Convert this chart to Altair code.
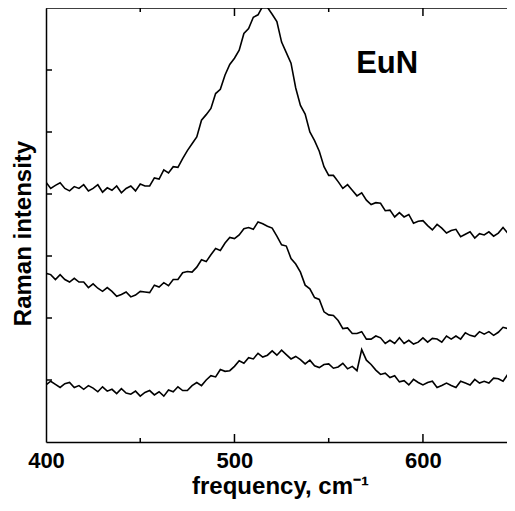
import altair as alt
import pandas as pd

# frequency grid (cm^-1), 2.5 cm^-1 spacing
freq = [400 + 2.5 * i for i in range(101)]

top_curve = [4.19, 4.09, 4.14, 4.18, 4.09, 4.05, 4.12, 4.09, 4.15, 4.05,
             4.09, 4.15, 4.03, 4.10, 4.06, 4.13, 4.02, 4.09, 4.13, 4.05,
             4.16, 4.13, 4.13, 4.26, 4.24, 4.39, 4.34, 4.44, 4.43, 4.57,
             4.70, 4.81, 4.92, 5.19, 5.28, 5.38, 5.62, 5.69, 5.92, 6.09,
             6.19, 6.32, 6.59, 6.67, 6.85, 6.89, 7.03, 7.01, 6.90, 6.78,
             6.45, 6.28, 6.11, 5.71, 5.43, 5.29, 5.00, 4.86, 4.69, 4.44,
             4.30, 4.30, 4.20, 4.09, 4.15, 4.06, 3.97, 4.02, 3.90, 3.83,
             3.86, 3.85, 3.73, 3.74, 3.63, 3.70, 3.63, 3.67, 3.53, 3.56,
             3.57, 3.49, 3.42, 3.51, 3.45, 3.37, 3.41, 3.43, 3.31, 3.35,
             3.39, 3.29, 3.36, 3.34, 3.39, 3.32, 3.37, 3.46, 3.37, 3.45, 3.48]

mid_curve = [2.72, 2.70, 2.62, 2.70, 2.62, 2.58, 2.64, 2.58, 2.58, 2.49,
             2.55, 2.48, 2.43, 2.49, 2.43, 2.35, 2.38, 2.42, 2.34, 2.37,
             2.43, 2.42, 2.41, 2.53, 2.50, 2.57, 2.52, 2.62, 2.62, 2.73,
             2.75, 2.74, 2.82, 2.94, 2.91, 3.02, 3.12, 3.09, 3.21, 3.30,
             3.28, 3.34, 3.44, 3.46, 3.43, 3.55, 3.52, 3.48, 3.45, 3.32,
             3.18, 3.16, 2.96, 2.87, 2.74, 2.53, 2.47, 2.33, 2.30, 2.10,
             2.05, 2.04, 1.96, 1.83, 1.84, 1.75, 1.75, 1.78, 1.66, 1.66,
             1.71, 1.68, 1.59, 1.64, 1.59, 1.68, 1.59, 1.64, 1.58, 1.61,
             1.68, 1.61, 1.67, 1.66, 1.61, 1.71, 1.66, 1.71, 1.66, 1.76,
             1.72, 1.70, 1.78, 1.74, 1.78, 1.72, 1.77, 1.85, 1.83, 1.79, 1.88]

low_curve = [0.92, 0.98, 0.93, 0.88, 0.94, 0.96, 0.88, 0.91, 0.85, 0.91,
             0.87, 0.81, 0.89, 0.82, 0.85, 0.78, 0.86, 0.79, 0.77, 0.82,
             0.74, 0.80, 0.83, 0.76, 0.81, 0.74, 0.84, 0.81, 0.89, 0.83,
             0.83, 0.91, 0.96, 0.91, 1.00, 1.07, 1.05, 1.17, 1.14, 1.15,
             1.22, 1.31, 1.27, 1.36, 1.34, 1.43, 1.37, 1.40, 1.47, 1.40,
             1.48, 1.41, 1.34, 1.38, 1.33, 1.26, 1.32, 1.23, 1.20, 1.25,
             1.26, 1.19, 1.21, 1.27, 1.18, 1.22, 1.15, 1.49, 1.32, 1.25,
             1.16, 1.09, 1.11, 1.04, 1.07, 0.97, 0.99, 0.92, 1.01, 0.96,
             0.92, 0.96, 0.98, 0.88, 0.91, 0.95, 0.91, 0.88, 0.98, 0.95,
             0.92, 1.01, 0.95, 0.98, 0.95, 1.03, 1.02, 0.98, 1.09, 1.06, 1.08]

x_major = [500, 600]
x_minor = [450, 550]
y_ticks = [1, 2, 3, 4, 5, 6]
x_max_visible = 644.6   # the right edge of the reference crop

W, H = 461, 434
FONT = "Liberation Sans"

rows = []
for name, vals in [("top", top_curve), ("mid", mid_curve), ("low", low_curve)]:
    for f, v in zip(freq, vals):
        rows.append({"freq": f, "intensity": v, "series": name})
df = pd.DataFrame(rows)

xscale = alt.Scale(domain=[400, x_max_visible], nice=False, zero=False)
yscale = alt.Scale(domain=[0, 7], nice=False, zero=False)

lines = alt.Chart(df).mark_line(color="black", strokeWidth=1.6, clip=True).encode(
    x=alt.X("freq:Q", scale=xscale,
            axis=alt.Axis(values=[400, 500, 600], ticks=False, grid=False,
                          labelFlush=False,
                          labelFont=FONT, labelFontSize=22, labelFontWeight="bold",
                          labelColor="black", labelPadding=8,
                          title="frequency, cm⁻¹", titleFont=FONT, titleFontSize=24,
                          titleFontWeight="bold", titleColor="black", titlePadding=3,
                          titleX=234,
                          domainColor="black", domainWidth=1.5)),
    y=alt.Y("intensity:Q", scale=yscale,
            axis=alt.Axis(labels=False, ticks=False, grid=False,
                          title="Raman intensity", titleFont=FONT, titleFontSize=24,
                          titleFontWeight="bold", titleColor="black", titlePadding=11,
                          titleY=225,
                          domainColor="black", domainWidth=1.5)),
    detail="series:N",
)

xmaj = pd.DataFrame({"f": x_major})
xmin = pd.DataFrame({"f": x_minor})
yt = pd.DataFrame({"v": y_ticks})

def xtick(data, y0, y1):
    return alt.Chart(data).mark_rule(color="black", strokeWidth=1.5).encode(
        x=alt.X("f:Q", scale=xscale), y=alt.value(y0), y2=alt.value(y1))

def ytick(x0, x1):
    return alt.Chart(yt).mark_rule(color="black", strokeWidth=1.5).encode(
        y=alt.Y("v:Q", scale=yscale), x=alt.value(x0), x2=alt.value(x1))

top_frame = alt.Chart(pd.DataFrame({"k": [0]})).mark_rule(
    color="black", strokeWidth=1.5
).encode(x=alt.value(0), x2=alt.value(W), y=alt.value(0))

label = alt.Chart(pd.DataFrame({"t": ["EuN"]})).mark_text(
    font=FONT, fontSize=31, fontWeight="bold", color="black"
).encode(x=alt.datum(581), y=alt.datum(6.1), text="t:N")

chart = alt.layer(
    lines,
    xtick(xmaj, H, H - 8), xtick(xmaj, 0, 8),
    xtick(xmin, H, H - 4), xtick(xmin, 0, 4),
    ytick(0, 6),
    top_frame,
    label,
).properties(
    width=W, height=H,
    autosize=alt.AutoSizeParams(type="none"),
    padding={"left": 38, "top": 0, "right": 0, "bottom": 61},
).configure_view(stroke=None)

chart.save("out.html", embed_options={"renderer": "svg", "actions": False})
